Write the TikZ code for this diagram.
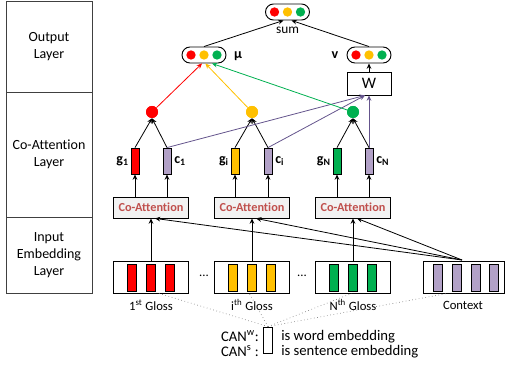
\documentclass[tikz,border=0pt]{standalone}
\usepackage{fontspec}
\setmainfont[Ligatures=NoCommon]{Carlito}
\usetikzlibrary{arrows.meta}
\definecolor{cred}{RGB}{255,0,0}
\definecolor{cyel}{RGB}{255,192,0}
\definecolor{cgrn}{RGB}{0,176,80}
\definecolor{cpur}{RGB}{178,161,199}
\definecolor{lpur}{RGB}{100,84,140}
\definecolor{catt}{RGB}{192,80,77}
\definecolor{cattfill}{RGB}{242,242,242}
\begin{document}
\begin{tikzpicture}[x=0.75pt,y=-0.75pt,
  layerbox/.style={draw=black!75,line width=0.6pt,minimum width=64.5pt,align=center,font=\fontsize{10.5}{12.5}\selectfont,inner sep=0pt},
  pill/.style={draw,line width=0.7pt,rounded corners=6pt,minimum width=33pt,minimum height=12pt,inner sep=0pt},
  dotc/.style={circle,inner sep=0pt,minimum size=7pt},
  bigc/.style={circle,inner sep=0pt,minimum size=9pt},
  vec/.style={draw,line width=0.6pt,minimum width=6pt,minimum height=19.5pt,inner sep=0pt},
  bar/.style={draw,line width=0.6pt,minimum width=6.75pt,minimum height=20.25pt,inner sep=0pt},
  coatt/.style={draw,line width=0.6pt,fill=cattfill,minimum width=56.25pt,minimum height=15.75pt,inner sep=0pt,font=\bfseries\fontsize{9.2}{10}\selectfont,text=catt},
  inbox/.style={draw,line width=0.6pt,minimum width=56.25pt,minimum height=24pt,inner sep=0pt},
  arr/.style={-{Stealth[length=4pt,width=3.5pt]},line width=0.6pt},
  lab/.style={font=\bfseries\fontsize{10.5}{11}\selectfont,inner sep=0pt},
  txt/.style={font=\fontsize{9.5}{10}\selectfont,inner sep=0pt},
  legtxt/.style={font=\fontsize{11}{12}\selectfont,inner sep=0pt},
  dots/.style={draw=black!50,dotted,line width=0.5pt}
]
\useasboundingbox (0,0) rectangle (508,367);
% layer boxes
\node[layerbox,minimum height=68.25pt] (L1) at (49,46.5) {Output\\Layer};
\node[layerbox,minimum height=93.75pt] (L2) at (49,154.5) {Co-Attention\\Layer};
\node[layerbox,minimum height=57pt] (L3) at (49,255) {Input\\Embedding\\Layer};

% pills
\node[pill] (sum) at (287.5,12) {};
\node[dotc,fill=cred] (sr) at (274.5,12) {};
\node[dotc,fill=cyel] (sy) at (287.5,12) {};
\node[dotc,fill=cgrn] (sg) at (300.5,12) {};
\node[txt,font=\fontsize{10}{11}\selectfont] (sumlab) at (287.5,30) {sum};

\node[pill] (mu) at (204,55) {};
\node[dotc,fill=cred] (mr) at (191,55) {};
\node[dotc,fill=cyel] (my) at (204,55) {};
\node[dotc,fill=cgrn] (mg) at (217,55) {};
\node[lab] (mulab) at (238,56) {μ};

\node[pill] (v) at (369,55) {};
\node[dotc,fill=cred] (vr) at (356,55) {};
\node[dotc,fill=cyel] (vy) at (369,55) {};
\node[dotc,fill=cgrn] (vg) at (382,55) {};
\node[lab] (vlab) at (335,55) {v};

\node[draw,line width=0.6pt,minimum width=33pt,minimum height=17.25pt,inner sep=0pt,font=\fontsize{12}{13}\selectfont] (W) at (369,83.5) {W};

% circles
\node[bigc,fill=cred] (c1r) at (152,112) {};
\node[bigc,fill=cyel] (c2y) at (252,112) {};
\node[bigc,fill=cgrn] (c3g) at (353,112) {};

% vectors
\node[vec,fill=cred] (g1) at (135,161) {};
\node[vec,fill=cpur] (c1) at (167,161) {};
\node[vec,fill=cyel] (gi) at (235,161) {};
\node[vec,fill=cpur] (ci) at (268,161) {};
\node[vec,fill=cgrn] (gN) at (337,161) {};
\node[vec,fill=cpur] (cN) at (369,161) {};
\node[lab,anchor=east] (g1l) at (129,161) {g\textsubscript{1}};
\node[lab,anchor=west] (c1l) at (174,161) {c\textsubscript{1}};
\node[lab,anchor=east] (gil) at (229,161) {g\textsubscript{i}};
\node[lab,anchor=west] (cil) at (275,161) {c\textsubscript{i}};
\node[lab,anchor=east] (gNl) at (331,161) {g\textsubscript{N}};
\node[lab,anchor=west] (cNl) at (376,161) {c\textsubscript{N}};

% co-attention boxes
\node[coatt] (a1) at (151,207.5) {Co-Attention};
\node[coatt] (a2) at (252,207.5) {Co-Attention};
\node[coatt] (a3) at (353,207.5) {Co-Attention};

% input boxes
\node[inbox] (in1) at (151,277) {};
\node[inbox] (in2) at (252,277) {};
\node[inbox] (in3) at (353,277) {};
\node[inbox,minimum width=60.75pt] (ctx) at (463.5,277) {};
\foreach \i/\x in {1/132,2/151,3/170} {\node[bar,fill=cred] (r\i) at (\x,277.5) {};}
\foreach \i/\x in {1/233,2/252,3/271} {\node[bar,fill=cyel] (y\i) at (\x,277.5) {};}
\foreach \i/\x in {1/334,2/353,3/372} {\node[bar,fill=cgrn] (n\i) at (\x,277.5) {};}
\foreach \i/\x in {1/438,2/457,3/476,4/494} {\node[bar,fill=cpur] (p\i) at (\x,277.5) {};}
\node[txt] (d1) at (204,276) {...};
\node[txt] (d2) at (302,276) {...};
\node[txt] (t1) at (151,305) {1\textsuperscript{st} Gloss};
\node[txt] (t2) at (252,305) {i\textsuperscript{th} Gloss};
\node[txt] (t3) at (353,305) {N\textsuperscript{th} Gloss};
\node[txt] (t4) at (463,305) {Context};

% CAN legend
\node[draw,line width=0.6pt,minimum width=6.75pt,minimum height=19.5pt,inner sep=0pt] (can) at (268,340) {};
\node[legtxt,anchor=east] (canw) at (259,336) {CAN\textsuperscript{w}:};
\node[legtxt,anchor=east] (cans) at (259,351) {CAN\textsuperscript{s} :};
\node[legtxt,anchor=west] (isw) at (281,337) {is word embedding};
\node[legtxt,anchor=west] (iss) at (281,352) {is sentence embedding};

% dotted lines
\draw[dots] (can.north) -- ([xshift=6pt]in1.south);
\draw[dots] (can.north) -- ([xshift=-2pt]in2.south);
\draw[dots] (can.north) -- ([xshift=-1pt]in3.south);
\draw[dots] (can.north) -- ([xshift=-12pt]ctx.south);

% input -> co-attention
\draw[arr] (in1.north) -- (a1.south);
\draw[arr] (in2.north) -- (a2.south);
\draw[arr] (in3.north) -- (a3.south);
\coordinate (ctxtop) at (462,260);
\draw[arr] (ctxtop) -- ([xshift=3pt]a1.south);
\draw[arr] (ctxtop) -- ([xshift=3pt]a2.south);
\draw[arr] (ctxtop) -- ([xshift=3pt]a3.south);

% co-att -> vectors
\draw[arr] (a1.north -| g1) -- (g1.south);
\draw[arr] (a1.north -| c1) -- (c1.south);
\draw[arr] (a2.north -| gi) -- (gi.south);
\draw[arr] (a2.north -| ci) -- (ci.south);
\draw[arr] (a3.north -| gN) -- (gN.south);
\draw[arr] (a3.north -| cN) -- (cN.south);

% vectors -> circles
\draw[arr] (g1.north) -- (c1r.south);
\draw[arr] (c1.north) -- (c1r.south);
\draw[arr] (gi.north) -- (c2y.south);
\draw[arr] (ci.north) -- (c2y.south);
\draw[arr] (gN.north) -- (c3g.south);
\draw[arr] (cN.north) -- (c3g.south);

% c -> W
\draw[arr,draw=lpur] (c1.north) -- ([xshift=-3pt]W.south);
\draw[arr,draw=lpur] (ci.north) -- ([xshift=-3pt]W.south);
\draw[arr,draw=lpur] (cN.north) -- (W.south);

% circles -> mu
\draw[arr,draw=cred] (c1r) -- ([xshift=-1.5pt]mu.south);
\draw[arr,draw=cyel] (c2y) -- ([xshift=1pt]mu.south);
\draw[arr,draw=cgrn] (c3g) -- ([xshift=6pt]mu.south);

% W -> v, mu/v -> sum
\draw[arr] (W.north) -- (v.south);
\draw[arr] (mu.north) -- ([xshift=-3pt]sum.south);
\draw[arr] (v.north) -- ([xshift=3pt]sum.south);

% redraw circles on top
\node[bigc,fill=cred] at (c1r) {};
\node[bigc,fill=cyel] at (c2y) {};
\node[bigc,fill=cgrn] at (c3g) {};
\end{tikzpicture}
\end{document}
